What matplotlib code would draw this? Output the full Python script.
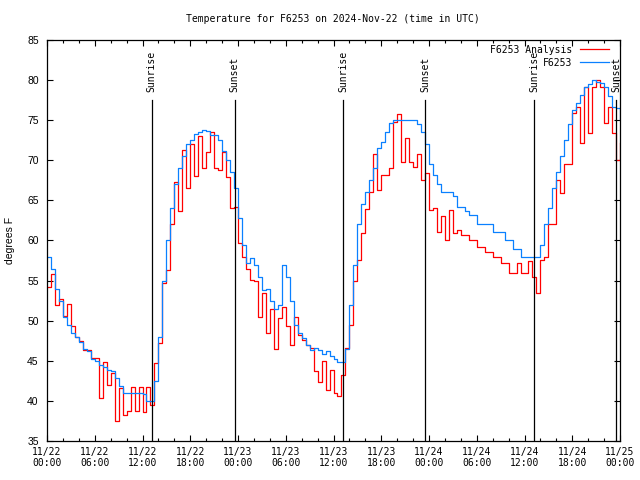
import numpy as np
import matplotlib.pyplot as plt

# half-hour samples, hours since 11/22 00:00 UTC
hours = np.arange(0, 72.5, 0.5)

analysis_temp = [
    54.2, 55.8, 52.0, 52.7, 50.6, 52.1, 49.4, 48.0, 47.5, 46.3, 46.3, 45.4,
    45.4, 40.4, 44.8, 42.0, 43.5, 37.5, 41.6, 38.3, 38.8, 41.7, 38.8, 41.7,
    38.6, 41.7, 39.5, 44.7, 47.2, 54.7, 56.3, 62.0, 67.3, 63.7, 71.3, 66.5,
    72.0, 68.1, 73.0, 69.0, 71.0, 73.5, 69.0, 68.8, 71.0, 67.9, 64.0, 64.2,
    59.7, 58.0, 56.5, 55.1, 54.9, 50.5, 53.4, 48.5, 51.5, 46.5, 50.3, 51.7,
    49.4, 47.0, 50.5, 48.2, 47.6, 47.0, 46.6, 43.7, 42.4, 45.0, 41.4, 43.9,
    41.0, 40.6, 43.2, 46.6, 49.5, 55.0, 57.6, 60.9, 63.9, 66.1, 70.8, 66.3,
    68.2, 68.2, 69.0, 74.8, 75.8, 69.8, 72.8, 69.8, 69.2, 70.8, 67.5, 68.4,
    63.8, 64.0, 61.1, 63.0, 60.1, 63.8, 60.9, 61.3, 60.7, 60.7, 60.1, 60.1,
    59.2, 59.2, 58.6, 58.6, 58.0, 58.0, 57.2, 57.2, 55.9, 55.9, 57.2, 55.9,
    55.9, 57.4, 55.5, 53.4, 57.6, 58.0, 62.1, 62.1, 67.5, 65.9, 69.6, 69.6,
    75.9, 76.7, 72.1, 79.2, 73.4, 79.2, 80.0, 79.2, 74.6, 76.7, 73.4, 70.0,
    72.1,
]

station_temp = [
    58.0, 56.5, 54.0, 52.5, 50.5, 49.5, 48.5, 48.0, 47.3, 46.5, 46.2, 45.2,
    45.0, 44.5, 44.2, 43.8, 43.7, 42.8, 41.8, 41.0, 41.0, 41.0, 41.0, 41.0,
    40.8, 40.0, 40.0, 42.5, 48.0, 55.0, 60.0, 64.0, 67.0, 69.0, 70.5, 72.0,
    72.5, 73.3, 73.5, 73.8, 73.7, 73.2, 73.2, 72.5, 71.2, 70.0, 68.5, 66.5,
    62.8, 59.5, 57.2, 57.8, 57.0, 55.5, 53.8, 54.0, 52.5, 51.5, 52.0, 57.0,
    55.5, 52.5, 49.5, 48.5, 47.8, 47.0, 46.4, 46.6, 46.4, 45.8, 46.2, 45.6,
    45.2, 44.8, 44.8, 46.5, 52.0, 57.0, 62.0, 64.5, 66.0, 67.5, 69.0, 71.5,
    72.3, 73.5, 74.7, 75.0, 75.0, 75.0, 75.0, 75.0, 75.0, 74.5, 73.5, 72.0,
    69.5, 68.2, 67.0, 66.1, 66.1, 66.1, 65.5, 64.2, 64.2, 63.7, 63.2, 63.2,
    62.1, 62.1, 62.1, 62.1, 61.1, 61.1, 61.1, 60.1, 60.1, 59.0, 59.0, 58.0,
    58.0, 58.0, 58.0, 58.0, 59.5, 62.0, 64.0, 66.5, 68.5, 70.5, 72.5, 74.5,
    76.3, 77.2, 78.2, 79.2, 79.5, 80.0, 79.8, 79.6, 79.2, 78.0, 76.7, 76.5,
    75.0,
]

sun_hours = [13.17, 23.57, 37.2, 47.56, 61.23, 71.55]
sun_labels = ["Sunrise", "Sunset", "Sunrise", "Sunset", "Sunrise", "Sunset"]

tick_hours = [0, 6, 12, 18, 24, 30, 36, 42, 48, 54, 60, 66, 72]
tick_labels = ["11/22\n00:00", "11/22\n06:00", "11/22\n12:00", "11/22\n18:00",
               "11/23\n00:00", "11/23\n06:00", "11/23\n12:00", "11/23\n18:00",
               "11/24\n00:00", "11/24\n06:00", "11/24\n12:00", "11/24\n18:00",
               "11/25\n00:00"]

mono = "DejaVu Sans Mono"
sans = "Liberation Sans"

fig = plt.figure(figsize=(6.4, 4.8), dpi=100)
ax = fig.add_axes([47 / 640, 39 / 480, 573 / 640, 401 / 480])

ax.plot(hours, analysis_temp, drawstyle="steps-post", color="#ff0000",
        lw=0.9, label="F6253 Analysis")
ax.plot(hours, station_temp, drawstyle="steps-post", color="#0a80ff",
        lw=0.9, label="F6253")

# sunrise / sunset markers
for h, lab in zip(sun_hours, sun_labels):
    ax.plot([h, h], [0, 0.85], color="black", lw=0.9,
            transform=ax.get_xaxis_transform())
    ax.text(h, 0.87, lab, rotation=90, ha="center", va="bottom",
            fontsize=7, family=mono, transform=ax.get_xaxis_transform())

ax.set_xlim(0, 72)
ax.set_ylim(35, 85)
ax.set_xticks(tick_hours)
ax.set_xticklabels(tick_labels, family=mono, fontsize=7)
ax.set_xticks(np.arange(0, 73, 2), minor=True)
ax.set_yticks(np.arange(35, 86, 5))
ax.set_yticklabels([str(v) for v in range(35, 86, 5)], family=sans, fontsize=7.5)
ax.tick_params(axis="both", which="both", direction="in", top=True, right=True,
               width=0.8)
ax.tick_params(axis="x", which="major", length=4.5, pad=4)
ax.tick_params(axis="x", which="minor", length=2.5)
ax.tick_params(axis="y", which="major", length=4, pad=6)
for s in ax.spines.values():
    s.set_linewidth(0.9)

ax.set_ylabel("degrees F", family=sans, fontsize=7.5, labelpad=9)
fig.text(333 / 640, 1 - 19 / 480, "Temperature for F6253 on 2024-Nov-22 (time in UTC)",
         ha="center", va="center", family=mono, fontsize=7)

ax.legend(loc="upper right", bbox_to_anchor=(0.99, 1.0), frameon=False,
          markerfirst=False, alignment="right",
          prop={"family": mono, "size": 7}, handlelength=3.0, handletextpad=0.8,
          labelspacing=0.3, borderaxespad=0.3, borderpad=0.2)

fig.savefig("out.png", dpi=100)
